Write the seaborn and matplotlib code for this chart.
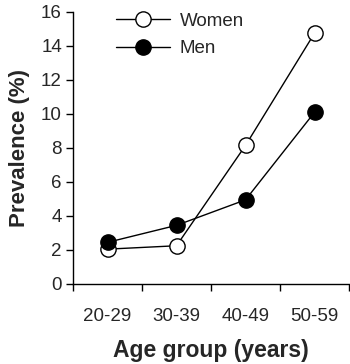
import matplotlib
matplotlib.use("Agg")
import matplotlib.pyplot as plt
import seaborn as sns
import pandas as pd

categories = ["20-29", "30-39", "40-49", "50-59"]
women = [2.05, 2.25, 8.15, 14.75]
men = [2.45, 3.45, 4.95, 10.1]
yticks = [0, 2, 4, 6, 8, 10, 12, 14, 16]

df_w = pd.DataFrame({"age": categories, "prev": women})
df_m = pd.DataFrame({"age": categories, "prev": men})

sns.set_style("ticks")
plt.rcParams["font.family"] = ["Liberation Sans", "DejaVu Sans"]

fig = plt.figure(figsize=(3.5, 3.64), dpi=100)
ax = fig.add_axes([73/350, 1 - 284/364, 276/350, 272/364])

common = dict(color="black", linewidth=1.0, marker="o", markersize=11,
              markeredgecolor="black", markeredgewidth=1.0)
sns.lineplot(data=df_w, x="age", y="prev", ax=ax, label="Women",
             markerfacecolor="white", **common)
sns.lineplot(data=df_m, x="age", y="prev", ax=ax, label="Men",
             markerfacecolor="black", **common)

ax.set_xlim(-0.5, 3.5)
ax.set_ylim(0, 16)
ax.set_yticks(yticks)
ax.set_xticks(range(len(categories)))
ax.set_xticklabels(categories)
ax.set_xticks([-0.5, 0.5, 1.5, 2.5, 3.5], minor=True)
ax.tick_params(axis="x", which="major", length=0, pad=17, labelsize=13.5)
ax.tick_params(axis="x", which="minor", length=5, width=1, direction="out", color="black")
ax.tick_params(axis="y", length=5, width=1, direction="out", labelsize=13.5, color="black", pad=3)

for s in ["top", "right"]:
    ax.spines[s].set_visible(False)
for s in ["left", "bottom"]:
    ax.spines[s].set_linewidth(1.0)
    ax.spines[s].set_color("black")

ax.set_xlabel("Age group (years)", fontsize=16.5, fontweight="bold", labelpad=10)
ax.set_ylabel("Prevalence (%)", fontsize=16, fontweight="bold", labelpad=8)

ax.legend(loc="upper left", bbox_to_anchor=(0.156, 0.997), frameon=False,
          fontsize=13.5, handlelength=2.9, handletextpad=0.5,
          labelspacing=0.55, borderpad=0, borderaxespad=0)

fig.savefig("out.png", dpi=100)
